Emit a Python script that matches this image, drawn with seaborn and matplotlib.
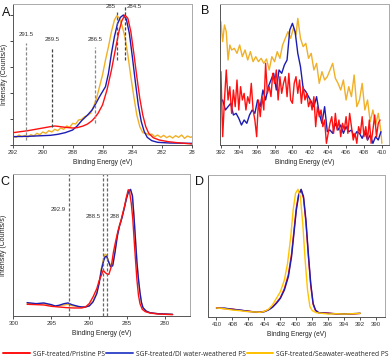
import numpy as np
import pandas as pd
import matplotlib
matplotlib.use("Agg")
import matplotlib.pyplot as plt
from matplotlib.lines import Line2D
import seaborn as sns

sns.set_style("white")
plt.rcParams["font.family"] = ["Liberation Sans", "DejaVu Sans"]

# ---------------- data ----------------
series_names = ["SGF-treated/Pristine PS", "SGF-treated/DI water-weathered PS",
                "SGF-treated/Seawater-weathered PS"]
colors = {"red": "#ff1010", "blue": "#1c1cb4", "yellow": "#f0b027"}

# Panel A (C 1s, weathered)
a_red_x = [292, 291.5, 291, 290.5, 290, 289.5, 289.2, 289, 288.5, 288, 287.7, 287.3, 287, 286.7,
           286.5, 286.3, 286, 285.7, 285.4, 285.1, 284.9, 284.7, 284.5, 284.3, 284.1, 283.9,
           283.7, 283.5, 283.3, 283.1, 282.9, 282.6, 282.2, 281.6, 281, 280.5, 280]
a_red_y = [37, 40, 43, 47, 51, 55, 57, 56, 53, 51, 52, 57, 63, 73, 83, 95, 120, 165, 225, 295,
           340, 373, 390, 380, 340, 275, 205, 140, 90, 55, 35, 22, 15, 10, 7, 5, 3]
a_blue_x = [292, 291, 290, 289.5, 289, 288.5, 288, 287.7, 287.4, 287, 286.7, 286.5, 286.2, 286.0,
            285.8, 285.6, 285.4, 285.2, 285.0, 284.8, 284.6, 284.4, 284.2, 284.0, 283.8, 283.6,
            283.4, 283.2, 283.0, 282.7, 282.3, 281.5, 280]
a_blue_y = [25, 26, 28, 29, 32, 37, 45, 57, 73, 90, 105, 120, 145, 160, 175, 215, 275, 325, 363,
            383, 390, 377, 335, 265, 190, 120, 70, 40, 23, 13, 8, 6, 5]
a_yel_x = [292, 291.8, 291.6, 291.4, 291.2, 291, 290.8, 290.6, 290.4, 290.2, 290, 289.8, 289.6,
           289.4, 289.2, 289, 288.8, 288.6, 288.4, 288.2, 288, 287.8, 287.6, 287.4, 287.2, 287,
           286.8, 286.6, 286.4, 286.2, 286, 285.8, 285.6, 285.4, 285.2, 285.05, 284.9, 284.7,
           284.5, 284.3, 284.1, 283.9, 283.7, 283.5, 283.3, 283.1, 282.9, 282.7, 282.5, 282.3,
           282.1, 281.9, 281.7, 281.5, 281.3, 281.1, 280.9, 280.7, 280.5, 280.3, 280.1, 280]
a_yel_y = [27, 23, 30, 25, 29, 24, 31, 27, 35, 31, 39, 35, 43, 39, 47, 43, 51, 47, 57, 53, 65, 63,
           75, 77, 85, 89, 95, 115, 140, 175, 210, 255, 295, 340, 375, 387, 383, 360, 325, 270,
           205, 145, 90, 55, 37, 35, 30, 33, 25, 30, 23, 29, 22, 27, 21, 28, 23, 30, 20, 27, 23, 25]
a_ref_pos = [291.15, 289.4, 286.5, 285.0, 284.5]
a_ref_lab = ["291.5", "289.5", "286.5", "285", "284.5"]

# Panel B (N 1s, weathered)
b_yel_x = [392.0, 392.2, 392.4, 392.6, 392.8, 393.0, 393.2, 393.5, 393.8, 394.1, 394.4, 394.7,
           395.0, 395.3, 395.6, 395.9, 396.2, 396.5, 396.8, 397.1, 397.4, 397.7, 398.0, 398.3,
           398.6, 398.9, 399.2, 399.5, 399.8, 400.1, 400.4, 400.6, 400.9, 401.2, 401.5, 401.8,
           402.1, 402.4, 402.7, 403.0, 403.3, 403.6, 403.9, 404.2, 404.5, 404.8, 405.1, 405.4,
           405.7, 406.0, 406.3, 406.6, 406.9, 407.2, 407.5, 407.8, 408.1, 408.4, 408.7, 409.0,
           409.3, 409.6, 409.9, 410.0]
b_yel_y = [370, 310, 360, 340, 255, 300, 285, 290, 275, 300, 265, 285, 255, 280, 250, 265, 250,
           260, 245, 258, 225, 265, 250, 280, 260, 300, 320, 340, 320, 350, 330, 380, 320, 295,
           305, 260, 275, 225, 245, 185, 220, 195, 205, 225, 245, 200, 185, 165, 195, 135, 175,
           145, 210, 115, 135, 185, 105, 135, 70, 105, 60, 95, 40, 5]
b_blue_x = [392.2, 392.5, 392.8, 393.1, 393.4, 393.7, 394.0, 394.3, 394.6, 394.9, 395.2, 395.5,
            395.8, 396.1, 396.4, 396.7, 397.0, 397.3, 397.6, 397.9, 398.2, 398.5, 398.8, 399.1,
            399.4, 399.7, 400.0, 400.3, 400.6, 400.9, 401.2, 401.5, 401.8, 402.1, 402.4, 402.7,
            403.0, 403.3, 403.6, 403.9, 404.2, 404.5, 404.8, 405.1, 405.4, 405.7, 406.0, 406.3,
            406.6, 406.9, 407.2, 407.5, 407.8, 408.1, 408.4, 408.7, 409.0, 409.3, 409.6, 409.9]
b_blue_y = [135, 105, 115, 125, 90, 95, 80, 60, 75, 65, 90, 105, 95, 135, 115, 165, 135, 175,
            195, 215, 165, 225, 215, 240, 255, 345, 365, 340, 275, 235, 170, 160, 145, 130, 115,
            145, 95, 65, 115, 40, 45, 35, 65, 45, 60, 35, 55, 40, 45, 25, 40, 35, 20, 40, 15, 30,
            5, 25, 15, 40]
b_red_x = [392.0, 392.2, 392.4, 392.6, 392.8, 393.0, 393.2, 393.4, 393.6, 393.8, 394.0, 394.2,
           394.4, 394.6, 394.8, 395.0, 395.2, 395.4, 395.6, 395.8, 396.0, 396.2, 396.4, 396.6,
           396.8, 397.0, 397.2, 397.4, 397.6, 397.8, 398.0, 398.2, 398.4, 398.6, 398.8, 399.0,
           399.2, 399.4, 399.6, 399.8, 400.0, 400.2, 400.4, 400.6, 400.8, 401.0, 401.2, 401.4,
           401.6, 401.8, 402.0, 402.2, 402.4, 402.6, 402.8, 403.0, 403.2, 403.4, 403.6, 403.8,
           404.0, 404.2, 404.4, 404.6, 404.8, 405.0, 405.2, 405.4, 405.6, 405.8, 406.0, 406.2,
           406.4, 406.6, 406.8, 407.0, 407.2, 407.4, 407.6, 407.8, 408.0, 408.2, 408.4, 408.6,
           408.8, 409.0, 409.2, 409.4, 409.6, 409.8]
b_red_y = [220, 25, 135, 225, 135, 175, 95, 165, 115, 195, 105, 175, 135, 155, 105, 145, 125,
           185, 105, 75, 25, 135, 85, 145, 105, 245, 155, 175, 145, 215, 185, 225, 135, 205, 155,
           185, 205, 145, 215, 135, 125, 185, 205, 155, 195, 125, 175, 135, 155, 115, 135, 105,
           145, 55, 115, 85, 105, 55, 75, 5, 35, 65, 85, 35, 95, 45, 75, 25, 65, 45, 85, 35, 95,
           55, 15, 35, 5, 55, 35, 85, 25, 55, 15, 75, 5, 45, 90, 25, 65, 75]

# Panel C (C 1s, SGF-treated)
c_blue_x = [298.2, 297.0, 296.0, 295.0, 294.5, 294.0, 293.3, 292.8, 292.3, 291.5, 291.0, 290.5,
            290.0, 289.5, 289.0, 288.7, 288.4, 288.1, 287.9, 287.7, 287.5, 287.2, 286.9, 286.6,
            286.3, 286.0, 285.7, 285.4, 285.1, 284.8, 284.55, 284.3, 284.1, 283.9, 283.7, 283.5,
            283.3, 283.1, 282.9, 282.5, 282.0, 281.0, 279.0]
c_blue_y = [40, 37, 39, 34, 30, 32, 37, 39, 34, 29, 27, 27, 30, 42, 67, 97, 137, 165, 177, 179,
            165, 148, 150, 190, 237, 270, 292, 320, 350, 373, 379, 360, 300, 230, 160, 110, 70,
            40, 25, 15, 10, 7, 5]
c_yel_y = [38, 35, 37, 32, 29, 31, 33, 35, 31, 28, 27, 27, 31, 44, 70, 100, 142, 172, 185, 182,
           168, 152, 155, 195, 243, 273, 294, 322, 352, 374, 378, 358, 298, 228, 158, 108, 68,
           39, 24, 15, 10, 7, 5]
c_red_x = [298.2, 297.0, 296.0, 295.0, 294.0, 293.0, 292.0, 291.0, 290.5, 290.0, 289.5, 289.0,
           288.7, 288.4, 288.15, 287.9, 287.6, 287.4, 287.1, 286.8, 286.5, 286.2, 285.9, 285.6,
           285.35, 285.1, 284.85, 284.7, 284.45, 284.25, 284.1, 283.9, 283.7, 283.5, 283.3,
           283.0, 282.6, 282.0, 281.0, 279.0]
c_red_y = [35, 34, 33, 29, 27, 25, 24, 24, 27, 37, 57, 82, 105, 122, 137, 130, 125, 125, 147,
           192, 225, 255, 277, 305, 327, 355, 378, 375, 337, 290, 237, 170, 107, 62, 37, 20, 13,
           9, 6, 4]
c_ref_pos = [292.7, 288.15, 287.65]
c_ref_lab = ["292.9", "288.5", "288"]

# Panel D (N 1s, SGF-treated)
d_x = [410, 409, 408, 407, 406, 405, 404.5, 404, 403.5, 403, 402.5, 402, 401.5, 401, 400.6,
       400.3, 400, 399.7, 399.4, 399.1, 398.8, 398.5, 398.2, 397.9, 397.6, 397.2, 396, 395, 394,
       393, 392]
d_blue_y = [25, 26, 22, 20, 16, 14, 13, 15, 20, 28, 40, 55, 80, 120, 180, 250, 320, 365, 382,
            360, 290, 190, 100, 40, 20, 12, 10, 9, 8, 9, 10]
d_red_y = [27, 24, 23, 19, 17, 13, 14, 16, 21, 29, 42, 57, 84, 126, 188, 258, 327, 368, 381,
           355, 282, 182, 94, 37, 18, 12, 11, 8, 9, 8, 10]
d_yel_x = [410, 409, 408, 407, 406, 405, 404.5, 404, 403.5, 403, 402.5, 402, 401.5, 401.1,
           400.7, 400.4, 400.1, 399.8, 399.5, 399.2, 398.9, 398.6, 398.3, 398, 397.5, 396, 395,
           394, 393, 392]
d_yel_y = [26, 24, 20, 18, 15, 14, 13, 16, 22, 35, 55, 75, 110, 160, 240, 320, 370, 382, 360,
           280, 170, 80, 30, 18, 12, 8, 9, 8, 9, 10]

# ---------------- figure ----------------
fig = plt.figure(figsize=(3.92, 3.62), dpi=100)
W, H = 392.0, 362.0


def box(l, r, t, b):
    return [l / W, 1 - b / H, (r - l) / W, (b - t) / H]


axA = fig.add_axes(box(13, 192, 4, 145))
axB = fig.add_axes(box(220, 389, 4, 145))
axC = fig.add_axes(box(12.7, 190, 174, 316))
axD = fig.add_axes(box(207.7, 385, 175, 316.7))

LW = 1.0


def draw(ax, x, y, c, lw=LW):
    df = pd.DataFrame({"be": x, "inten": y})
    sns.lineplot(data=df, x="be", y="inten", color=c, lw=lw, ax=ax,
                 estimator=None, sort=False)


draw(axA, a_yel_x, a_yel_y, colors["yellow"])
draw(axA, a_blue_x, a_blue_y, colors["blue"])
draw(axA, a_red_x, a_red_y, colors["red"])

draw(axB, b_yel_x, b_yel_y, colors["yellow"])
draw(axB, b_blue_x, b_blue_y, colors["blue"])
draw(axB, b_red_x, b_red_y, colors["red"])

draw(axC, c_blue_x, c_yel_y, colors["yellow"])
draw(axC, c_blue_x, c_blue_y, colors["blue"])
draw(axC, c_red_x, c_red_y, colors["red"])

draw(axD, d_x, d_red_y, colors["red"])
draw(axD, d_x, d_blue_y, colors["blue"])
draw(axD, d_yel_x, d_yel_y, "#ffc400")

# reference dashed lines, panel A
a_spans = [(15, 305), (55, 295), (65, 295), (255, 400), (255, 420)]
a_cols = ["#888888", "#444444", "#888888", "#555555", "#444444"]
for pos, (lo, hi), col in zip(a_ref_pos, a_spans, a_cols):
    axA.plot([pos, pos], [lo, hi], ls=(0, (2.5, 1.5)), color=col, lw=0.9)
axA.text(a_ref_pos[0], 330, a_ref_lab[0], ha="center", va="center", fontsize=4.3, color="#333")
axA.text(a_ref_pos[1], 317, a_ref_lab[1], ha="center", va="center", fontsize=4.3, color="#333")
axA.text(a_ref_pos[2], 317, a_ref_lab[2], ha="center", va="center", fontsize=4.3, color="#333")
axA.text(a_ref_pos[3] + 0.12, 415, a_ref_lab[3], ha="right", va="center", fontsize=4.3, color="#333")
axA.text(a_ref_pos[4] - 0.15, 415, a_ref_lab[4], ha="left", va="center", fontsize=4.3, color="#333")

# reference dashed lines, panel C
for pos in c_ref_pos:
    axC.axvline(pos, ls=(0, (2.5, 1.5)), color="#666666", lw=0.9)
axC.text(c_ref_pos[0] + 0.4, 320, c_ref_lab[0], ha="right", va="center", fontsize=4.3, color="#333")
axC.text(c_ref_pos[1] + 0.4, 297, c_ref_lab[1], ha="right", va="center", fontsize=4.3, color="#333")
axC.text(c_ref_pos[2] - 0.4, 297, c_ref_lab[2], ha="left", va="center", fontsize=4.3, color="#333")

# axes styling
axA.set_xlim(292, 280)
axA.set_xticks([292, 290, 288, 286, 284, 282, 280])
axA.set_xticklabels(["292", "290", "288", "286", "284", "282", "28"])
axA.set_ylim(0, 423)
axA.set_yticks([0, 78, 156, 234, 312, 390])
axA.set_yticklabels([])

axB.set_xlim(391.9, 410.8)
axB.set_xticks(list(range(392, 411, 2)))
axB.set_ylim(0, 423)
axB.set_yticks([])

axC.set_xlim(300.1, 276.7)
axC.set_xticks([300, 295, 290, 285, 280])
axC.set_ylim(0, 425)
axC.set_yticks([])

axD.set_xlim(411.1, 388.9)
axD.set_xticks(list(range(410, 389, -2)))
axD.set_ylim(0, 425)
axD.set_yticks([])

for ax in (axA, axB, axC, axD):
    ax.set_xlabel("Binding Energy (eV)", fontsize=4.8, color="#222")
    ax.xaxis.set_label_coords(0.5, -0.10)
    ax.set_ylabel("")
    ax.tick_params(axis="x", direction="out", length=2, width=0.6, pad=1.5,
                   labelsize=4.3, colors="#333", bottom=True)
    ax.tick_params(axis="y", direction="out", length=2, width=0.6, left=True)
    for s in ("top", "right"):
        ax.spines[s].set_color("#aaaaaa")
        ax.spines[s].set_linewidth(0.7)
    for s in ("left", "bottom"):
        ax.spines[s].set_color("#555555")
        ax.spines[s].set_linewidth(0.7)

for ax in (axA, axC):
    ax.set_ylabel("Intensity (Counts/s)", fontsize=5.0, color="#222")
    ax.yaxis.set_label_coords(-0.03, 0.5)

# panel letters
for lab, (px, py) in zip("ABCD", [(6, 12.5), (205, 11.5), (5, 182), (200, 182)]):
    fig.text(px / W, 1 - py / H, lab, ha="center", va="center", fontsize=9, color="#111")

# legend
handles = [Line2D([], [], color=colors["red"], lw=1.4),
           Line2D([], [], color="#3a4ccc", lw=1.4),
           Line2D([], [], color="#ffc000", lw=1.4)]
fig.legend(handles, series_names, loc="center", bbox_to_anchor=(0.5, 1 - 354 / H), ncol=3,
           frameon=False, handlelength=4.0, handletextpad=0.45,
           columnspacing=0.15, borderpad=0.1,
           prop={"family": ["Open Sans", "DejaVu Sans"], "size": 4.8})

fig.savefig("out.png", dpi=100)
